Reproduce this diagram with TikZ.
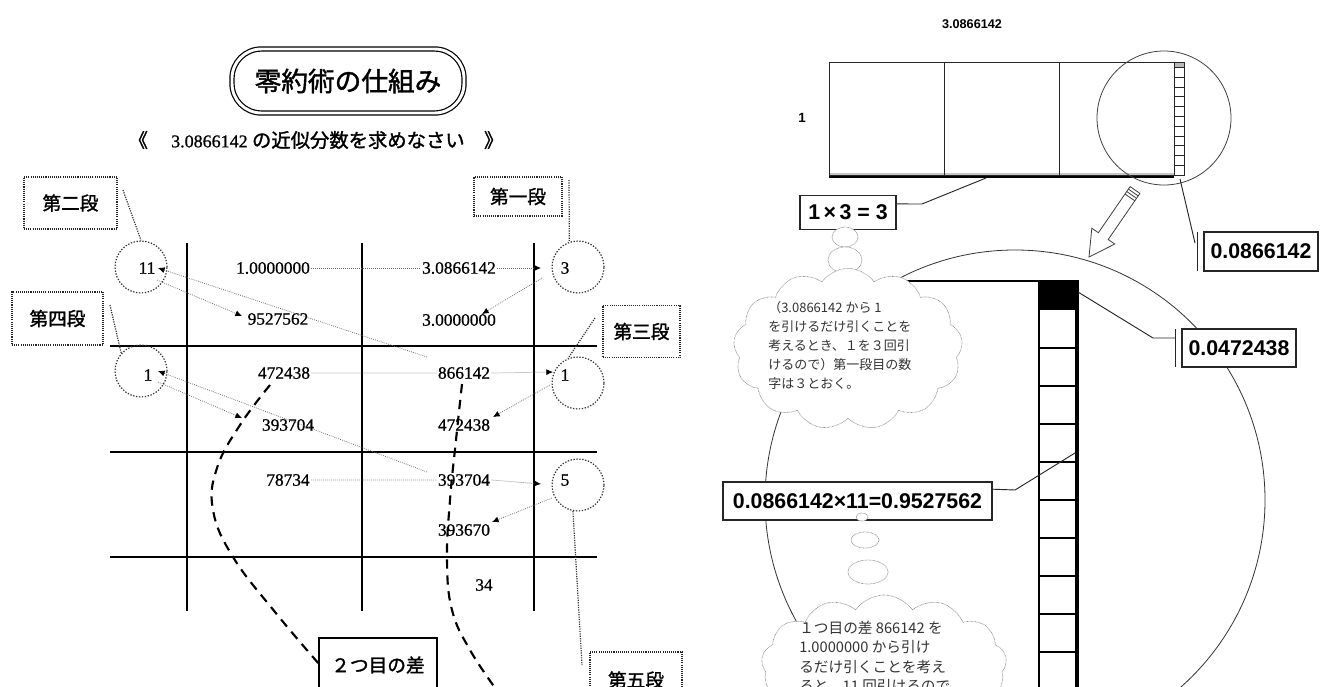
\documentclass[tikz,border=0pt]{standalone}
\usepackage{fontspec}
\setmainfont{Liberation Serif}
\newfontfamily\numfont[FakeBold=0.8]{Liberation Serif}
\newfontfamily\jp{Noto Sans CJK JP}
\newfontfamily\jpb[FakeBold=1.5]{Noto Sans CJK JP}
\newfontfamily\gsans{Liberation Sans}
\usetikzlibrary{arrows.meta,shapes.symbols,shapes.geometric}
\tikzset{
 gridline/.style={line width=1.5pt},
 num/.style={font=\numfont\fontsize{13}{15}\selectfont, inner sep=1pt},
 dcirc/.style={circle, draw=black!80, dash pattern=on 1pt off 1.2pt, line width=0.9pt, minimum size=39pt, inner sep=0pt},
 dlbl/.style={draw=black!85, dash pattern=on 0.8pt off 0.8pt, line width=1pt, font=\jpb\fontsize{14}{16}\selectfont, inner sep=0pt},
 dlead/.style={black!80, dash pattern=on 0.9pt off 0.9pt, line width=0.9pt},
 darr/.style={black!60, dash pattern=on 0.6pt off 0.9pt, line width=0.55pt, -{Latex[length=5pt,width=4.5pt,color=black]}},
 dcurve/.style={line width=1.6pt, dash pattern=on 7pt off 5pt},
 fline/.style={black!85, line width=0.7pt},
 sbox/.style={draw=black!85, line width=0.9pt, fill=white, font=\gsans\bfseries\fontsize{16}{18}\selectfont, inner sep=0pt},
 bub/.style={draw=black!45, dash pattern=on 0.5pt off 0.5pt, line width=0.5pt, fill=white},
 cloudtext/.style={align=left, inner sep=0pt, text=black!80},
}
\begin{document}
\begin{tikzpicture}[x=0.75pt,y=-0.75pt]
\useasboundingbox (0,0) rectangle (1321,686);
\fill[white] (0,0) rectangle (1321,686);

% ================= LEFT PANEL =================
\node[draw, line width=0.9pt, double distance=2.2pt, rounded corners=22pt, minimum width=174pt, minimum height=48pt, font=\jpb\fontsize{20}{22}\selectfont] (title) at (348,81) {零約術の仕組み};
\node[font=\jpb\fontsize{14.5}{16}\selectfont] (sub) at (316,140) {《\hspace{1.2em}{\numfont\fontsize{13.5}{15}\selectfont 3.0866142} の近似分数を求めなさい\hspace{1em}》};

% grid
\draw[gridline] (187,243) -- (187,611);
\draw[gridline] (362,243) -- (362,611);
\draw[gridline] (534,243) -- (534,611);
\draw[gridline] (110,346) -- (597,346);
\draw[gridline] (110,452) -- (597,452);
\draw[gridline] (110,557) -- (597,557);

% circles
\node[dcirc] (C11) at (141,267) {};
\node[dcirc] (Cl1) at (141,371) {};
\node[dcirc] (Cq1) at (578,267) {};
\node[dcirc] (Cq3) at (578,383) {};
\node[dcirc] (Cq5) at (578,485) {};

% numbers
\node[num] (n11) at (147,268) {11};
\node[num] (a1) at (273,268) {1.0000000};
\node[num] (a2) at (459,268) {3.0866142};
\node[num] (q1) at (565,268) {3};
\node[num] (b1) at (278,319) {9527562};
\node[num] (b2) at (459,320) {3.0000000};
\node[num] (c1) at (284,373) {472438};
\node[num] (c2) at (464,373) {866142};
\node[num] (q3) at (565,375) {1};
\node[num] (l1) at (148,375) {1};
\node[num] (d1) at (288,425) {393704};
\node[num] (d2) at (464,425) {472438};
\node[num] (e1) at (288,480) {78734};
\node[num] (e2) at (464,480) {393704};
\node[num] (q5) at (565,480) {5};
\node[num] (f2) at (464,530) {393670};
\node[num] (g2) at (484,585) {34};

% label boxes
\node[dlbl, minimum width=69.75pt, minimum height=39pt] (L2) at (70.5,203) {第二段};
\node[dlbl, minimum width=68.25pt, minimum height=39.75pt] (L4) at (57.5,318.5) {第四段};
\node[dlbl, minimum width=66pt, minimum height=29.25pt] (L1) at (518,196.5) {第一段};
\node[dlbl, minimum width=57.75pt, minimum height=39pt] (L3) at (641.5,331.5) {第三段};
\node[dlbl, minimum width=69pt, minimum height=42pt] (L5) at (636,680) {第五段};
\node[draw, line width=1.5pt, minimum width=88.5pt, minimum height=40.5pt, font=\jpb\fontsize{14}{16}\selectfont, inner sep=0pt] (diff) at (378,665) {２つ目の差};

% label leaders
\coordinate (k2) at (123,190);
\coordinate (k4) at (110,305);
\coordinate (k1) at (569,180);
\coordinate (k3) at (595,318);
\coordinate (k5) at (582,665);
\draw[dlead] (k2) -- (C11.north);
\draw[dlead] (k4) -- (Cl1.138);
\draw[dlead] (k1) -- (Cq1.109);
\draw[dlead] (k3) -- (Cq3.112);
\draw[dlead] (Cq5.259) -- (k5);

% dotted arrows
\coordinate (t1) at (541,268);
\coordinate (t3) at (553,372);
\coordinate (t5) at (541,484);
\draw[darr] (a1.east) -- (a2.west) (a2.east) -- (t1);
\draw[darr] (c1.east) -- (c2.west) (c2.east) -- (t3);
\draw[darr] (e1.east) -- (e2.west) (e2.east) -- (t5);
\coordinate (s1) at (542,278);
\coordinate (h1) at (482,314);
\coordinate (s3) at (550,385);
\coordinate (h3) at (493,417);
\coordinate (s5) at (552,498);
\coordinate (h5) at (492,522);
\draw[darr] (s1) -- (h1);
\draw[darr] (s3) -- (h3);
\draw[darr] (s5) -- (h5);
\coordinate (u1) at (427,357);
\coordinate (u2) at (427,472);
\coordinate (v11) at (158,268);
\coordinate (v12) at (157,280);
\coordinate (w1) at (242,316);
\coordinate (v21) at (158,371);
\coordinate (v22) at (158,382);
\coordinate (w2) at (242,418);
\draw[darr] (u1) -- (v11);
\draw[darr] (v12) -- (w1);
\draw[darr] (u2) -- (v21);
\draw[darr] (v22) -- (w2);

% dashed curves
\draw[dcurve] plot[smooth, tension=0.7] coordinates {(270,385) (240,425) (217,468) (213,510) (233,557) (275,612) (319,664)};
\draw[dcurve] plot[smooth, tension=0.7] coordinates {(462,384) (456,440) (450,500) (447,560) (452,610) (470,650) (498,692)};

% ================= RIGHT PANEL =================
\node[font=\gsans\bfseries\fontsize{9.5}{10}\selectfont] (topnum) at (972,24) {3.0866142};
\node[font=\gsans\bfseries\fontsize{10}{11}\selectfont] (one) at (802,118) {1};

% top rectangle
\fill[gray!45] (829,172.5) rectangle (1174,175.5);
\draw[fline] (829,62) rectangle (1174,175);
\draw[fline] (944,62) -- (944,175);
\draw[fline] (1059,62) -- (1059,175);
\fill[gray!55] (1174,62) rectangle (1184,67.3);
\draw[fline, line width=0.5pt] (1174,62) rectangle (1184,175);
\foreach \i in {0,...,10} \draw[fline, line width=0.5pt] (1174,67.3+\i*9.79) -- (1184,67.3+\i*9.79);
\draw[line width=2pt] (829,177) -- (1174,177);
\draw[black!75, line width=0.6pt] (1164,118) circle [radius=67];

% 1x3=3
\node[sbox, minimum width=72pt, minimum height=26pt] (m3) at (848,212.5) {1\,×\,3 = 3};
\coordinate (m3a) at (922,204);
\coordinate (m3b) at (986,178);
\draw[fline] (m3.10) -- (m3a) -- (m3b);

% hollow arrow
\draw[black!75, fill=white, line width=0.6pt] (1139.9,193.4) -- (1108.2,239.5) -- (1114.8,244.0) -- (1089,257) -- (1091.8,228.2) -- (1098.4,232.7) -- (1130.1,186.6) -- cycle;
\draw[black!75, line width=0.6pt] (1138.2,195.9) -- (1128.4,189.1) (1136.5,198.3) -- (1126.7,191.5) (1134.8,200.8) -- (1125.0,194.0);

% 0.0866142 box
\node[sbox, minimum width=85.5pt, minimum height=29.25pt] (r1) at (1261,251.5) {0.0866142};
\coordinate (r1s) at (1180,179);
\coordinate (r1e) at (1195,243);
\draw[fline] (r1s) -- (r1e);
\draw[fline] (1197,232) -- (1197,271);

% big circle and magnified column
\draw[black!80, line width=0.6pt] (1015,500) circle [radius=250];
\begin{scope}
\clip (1015,500) circle [radius=250];
\draw[line width=1.5pt] (880,281) -- (1039,281);
\end{scope}
\fill (1038,280) rectangle (1079,309.5);
\draw[line width=1.5pt] (1039,280) -- (1039,700);
\draw[line width=2.8pt] (1077,280) -- (1077,700);
\foreach \i in {1,...,10} \draw[line width=1.4pt] (1039,309.5+\i*38.1) -- (1077,309.5+\i*38.1);

% 0.0472438
\node[sbox, minimum width=85.5pt, minimum height=28.5pt] (r2) at (1239,348) {0.0472438};
\coordinate (blk) at (1078,292);
\coordinate (r2a) at (1153,338);
\coordinate (r2b) at (1175,338);
\draw[fline] (blk) -- (r2a) -- (r2b);
\draw[fline] (1175,329) -- (1175,367);

% cloud 1
\draw[bub] (845,237) ellipse [x radius=13, y radius=10];
\draw[bub] (845,260) ellipse [x radius=17, y radius=13];
\node[cloud, cloud puffs=13, cloud puff arc=110, aspect=1.42, draw=black!45, dash pattern=on 0.5pt off 0.5pt, line width=0.5pt, fill=white, minimum width=172pt, minimum height=121pt, inner sep=0pt] (cl1) at (848,349) {};
\node[cloudtext, font=\jp\fontsize{9.75}{14.25}\selectfont, anchor=west] (cl1t) at (768,345) {（3.0866142 から 1\\を引けるだけ引くことを\\考えるとき、１を３回引\\けるので）第一段目の数\\字は３とおく。};

% multiply box
\node[sbox, minimum width=201.75pt, minimum height=28.5pt] (mul) at (857.5,501) {0.0866142×11=0.9527562};
\coordinate (mula) at (1015,490);
\coordinate (mulb) at (1075,453);
\draw[fline] (mul.5) -- (mula) -- (mulb);

% cloud 2
\draw[bub] (862,517) ellipse [x radius=6, y radius=4];
\draw[bub] (865,540) ellipse [x radius=14, y radius=8];
\draw[bub] (868,572) ellipse [x radius=20, y radius=12];
\node[cloud, cloud puffs=13, cloud puff arc=110, aspect=1.75, draw=black!45, dash pattern=on 0.5pt off 0.5pt, line width=0.5pt, fill=white, minimum width=184pt, minimum height=105pt, inner sep=0pt] (cl2) at (884,665) {};
\node[cloudtext, font=\jp\fontsize{11}{14.5}\selectfont, anchor=north west] (cl2t) at (799,621) {１つ目の差 866142 を\\1.0000000 から引け\\るだけ引くことを考え\\ると、11 回引けるので};
\end{tikzpicture}
\end{document}
